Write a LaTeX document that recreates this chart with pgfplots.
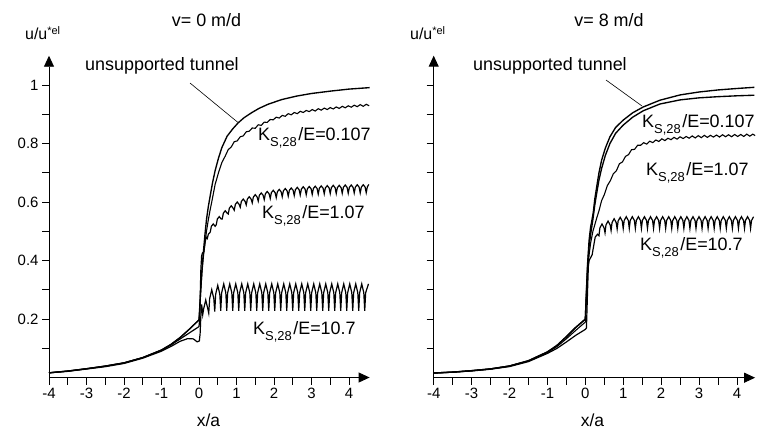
\documentclass[border=0pt]{standalone}
\usepackage{pgfplots}
\pgfplotsset{compat=1.18}
\usepackage{fontspec}
\setmainfont{Liberation Sans}
\usetikzlibrary{arrows.meta}
\newcommand{\Ks}[1]{K\raisebox{-6bp}{\fontsize{13}{13}\selectfont S,28}\hspace{1.5bp}/E=#1}
\pgfplotsset{
 crv/.style={black, line width=1.35bp, mark=none},
 panel/.style={
  scale only axis,
  axis lines=left,
  axis line style={line width=0.9bp},
  every outer x axis line/.append style={-{Triangle[length=11bp,width=10bp]}},
  every outer y axis line/.append style={-{Triangle[length=11bp,width=10bp]}},
  every inner x axis line/.append style={-{Triangle[length=11bp,width=10bp]}},
  every inner y axis line/.append style={-{Triangle[length=11bp,width=10bp]}},
  xmin=-4, ymin=0, ymax=1.1,
  xtick={-4,-3,-2,-1,0,1,2,3,4},
  xticklabels={-4,-3,-2,-1,0,1,2,3,4},
  minor xtick={-3.5,-2.5,-1.5,-0.5,0.5,1.5,2.5,3.5},
  ytick={0.2,0.4,0.6,0.8,1},
  minor ytick={0.1,0.3,0.5,0.7,0.9},
  tick align=outside, major tick length=7bp, minor tick length=7bp,
  every tick/.style={line width=0.8bp, black},
  ticklabel style={font=\fontsize{15}{15}\selectfont},
  clip=false,
 }
}
\begin{document}
\begin{tikzpicture}[x=1bp,y=1bp]
% ---------------- left panel: v = 0 m/d
\begin{axis}[panel, at={(49bp,51.5bp)}, anchor=south west,
  width=320.6bp, height=321.75bp, xmax=4.55,
  yticklabels={0.2,0.4,0.6,0.8,1}]
% unsupported tunnel
\addplot[crv] coordinates {(-4,0.016) (-3.5,0.022) (-3,0.030) (-2.5,0.039) (-2,0.050) (-1.5,0.068) (-1,0.094) (-0.75,0.113) (-0.5,0.137) (-0.25,0.166) (0,0.197) (0.02,0.24) (0.05,0.31) (0.08,0.37) (0.115,0.425) (0.16,0.49) (0.2,0.54) (0.25,0.585) (0.3,0.622) (0.36,0.665) (0.43,0.707) (0.52,0.75) (0.61,0.786) (0.75,0.825) (0.9,0.85) (1.04,0.87) (1.2,0.888) (1.4,0.905) (1.6,0.92) (1.84,0.934) (2.2,0.95) (2.6,0.962) (3,0.971) (3.5,0.979) (4,0.986) (4.55,0.991)};
% Ks/E = 0.107
\addplot[crv, line width=1.1bp] coordinates {(-4,0.016) (-3.5,0.022) (-3,0.030) (-2.5,0.039) (-2,0.050) (-1.5,0.068) (-1,0.094) (-0.75,0.113) (-0.5,0.137) (-0.25,0.166) (0,0.197) (0.02,0.235) (0.05,0.30) (0.08,0.36) (0.115,0.41) (0.16,0.46) (0.2,0.50) (0.25,0.54) (0.3,0.575) (0.34,0.60) (0.43,0.66) (0.52,0.70) (0.61,0.735)
(0.70,0.757) (0.78,0.779) (0.86,0.788) (0.94,0.806) (1.02,0.809) (1.10,0.823) (1.18,0.826) (1.26,0.840) (1.34,0.842) (1.42,0.853) (1.50,0.852) (1.58,0.864) (1.66,0.862) (1.74,0.873) (1.82,0.872) (1.90,0.882) (1.98,0.881) (2.06,0.890) (2.14,0.887) (2.22,0.896) (2.30,0.893) (2.38,0.902) (2.46,0.898) (2.54,0.906) (2.62,0.902) (2.70,0.910) (2.78,0.906) (2.86,0.913) (2.94,0.909) (3.02,0.916) (3.10,0.911) (3.18,0.919) (3.26,0.914) (3.34,0.921) (3.42,0.916) (3.50,0.923) (3.58,0.918) (3.66,0.925) (3.74,0.920) (3.82,0.927) (3.90,0.922) (3.98,0.929) (4.06,0.924) (4.14,0.931) (4.22,0.926) (4.30,0.933) (4.38,0.927) (4.46,0.934) (4.54,0.929)};
% Ks/E = 1.07
\addplot[crv, line width=1.2bp] coordinates {(-4,0.016) (-3.5,0.022) (-3,0.030) (-2.5,0.039) (-2,0.050) (-1.5,0.068) (-1,0.093) (-0.75,0.111) (-0.5,0.132) (-0.25,0.153) (0,0.174) (0.02,0.20) (0.035,0.29) (0.05,0.37) (0.07,0.415) (0.09,0.425) (0.13,0.43) (0.16,0.46) (0.19,0.48) (0.22,0.475) (0.25,0.49)
(0.30,0.497) (0.33,0.517) (0.38,0.525) (0.43,0.517)
(0.46,0.522) (0.49,0.542) (0.54,0.550) (0.59,0.542)
(0.62,0.542) (0.65,0.562) (0.70,0.570) (0.75,0.562)
(0.78,0.559) (0.81,0.579) (0.86,0.587) (0.91,0.579)
(0.94,0.572) (0.97,0.592) (1.02,0.600) (1.07,0.592)
(1.10,0.582) (1.13,0.602) (1.18,0.610) (1.23,0.602)
(1.26,0.590) (1.29,0.610) (1.34,0.618) (1.39,0.610)
(1.42,0.597) (1.45,0.617) (1.50,0.625) (1.55,0.617)
(1.58,0.603) (1.61,0.623) (1.66,0.631) (1.71,0.623)
(1.74,0.608) (1.77,0.628) (1.82,0.636) (1.87,0.628)
(1.90,0.612) (1.93,0.632) (1.98,0.640) (2.03,0.632)
(2.06,0.615) (2.09,0.635) (2.14,0.643) (2.19,0.635)
(2.22,0.618) (2.25,0.638) (2.30,0.646) (2.35,0.638)
(2.38,0.620) (2.41,0.640) (2.46,0.648) (2.51,0.640)
(2.54,0.622) (2.57,0.642) (2.62,0.650) (2.67,0.642)
(2.70,0.624) (2.73,0.644) (2.78,0.652) (2.83,0.644)
(2.86,0.625) (2.89,0.645) (2.94,0.653) (2.99,0.645)
(3.02,0.626) (3.05,0.646) (3.10,0.654) (3.15,0.646)
(3.18,0.627) (3.21,0.647) (3.26,0.655) (3.31,0.647)
(3.34,0.628) (3.37,0.648) (3.42,0.656) (3.47,0.648)
(3.50,0.629) (3.53,0.649) (3.58,0.657) (3.63,0.649)
(3.66,0.629) (3.69,0.649) (3.74,0.657) (3.79,0.649)
(3.82,0.630) (3.85,0.650) (3.90,0.658) (3.95,0.650)
(3.98,0.630) (4.01,0.650) (4.06,0.658) (4.11,0.650)
(4.14,0.631) (4.17,0.651) (4.22,0.659) (4.27,0.651)
(4.30,0.631) (4.33,0.651) (4.38,0.659) (4.43,0.651)
(4.46,0.632) (4.49,0.652) (4.53,0.660)};
% Ks/E = 10.7
\addplot[crv, line width=1.2bp] coordinates {(-4,0.016) (-3.5,0.021) (-3,0.029) (-2.5,0.037) (-2,0.048) (-1.5,0.066) (-1,0.090) (-0.75,0.106) (-0.5,0.124) (-0.3,0.133) (-0.15,0.132) (-0.05,0.122) (0.01,0.125) (0.03,0.15) (0.05,0.21) (0.07,0.25) (0.085,0.235)
(0.10,0.215) (0.125,0.235) (0.18,0.265) (0.235,0.235)
(0.26,0.220) (0.285,0.270) (0.34,0.300) (0.395,0.270)
(0.42,0.225) (0.445,0.285) (0.50,0.315) (0.555,0.285)
(0.58,0.228) (0.605,0.29) (0.66,0.32) (0.715,0.29)
(0.74,0.228) (0.765,0.29) (0.82,0.32) (0.875,0.29)
(0.90,0.228) (0.925,0.29) (0.98,0.32) (1.035,0.29)
(1.06,0.228) (1.085,0.29) (1.14,0.32) (1.195,0.29)
(1.22,0.228) (1.245,0.29) (1.30,0.32) (1.355,0.29)
(1.38,0.228) (1.405,0.29) (1.46,0.32) (1.515,0.29)
(1.54,0.228) (1.565,0.29) (1.62,0.32) (1.675,0.29)
(1.70,0.228) (1.725,0.29) (1.78,0.32) (1.835,0.29)
(1.86,0.228) (1.885,0.29) (1.94,0.32) (1.995,0.29)
(2.02,0.228) (2.045,0.29) (2.10,0.32) (2.155,0.29)
(2.18,0.228) (2.205,0.29) (2.26,0.32) (2.315,0.29)
(2.34,0.228) (2.365,0.29) (2.42,0.32) (2.475,0.29)
(2.50,0.228) (2.525,0.29) (2.58,0.32) (2.635,0.29)
(2.66,0.228) (2.685,0.29) (2.74,0.32) (2.795,0.29)
(2.82,0.228) (2.845,0.29) (2.90,0.32) (2.955,0.29)
(2.98,0.228) (3.005,0.29) (3.06,0.32) (3.115,0.29)
(3.14,0.228) (3.165,0.29) (3.22,0.32) (3.275,0.29)
(3.30,0.228) (3.325,0.29) (3.38,0.32) (3.435,0.29)
(3.46,0.228) (3.485,0.29) (3.54,0.32) (3.595,0.29)
(3.62,0.228) (3.645,0.29) (3.70,0.32) (3.755,0.29)
(3.78,0.228) (3.805,0.29) (3.86,0.32) (3.915,0.29)
(3.94,0.228) (3.965,0.29) (4.02,0.32) (4.075,0.29)
(4.10,0.228) (4.125,0.29) (4.18,0.32) (4.235,0.29)
(4.26,0.228) (4.285,0.29) (4.34,0.32) (4.395,0.29)
(4.42,0.228) (4.445,0.29) (4.52,0.32)};
\end{axis}
% ---------------- right panel: v = 8 m/d
\begin{axis}[panel, at={(433.7bp,51.3bp)}, anchor=south west,
  width=321.4bp, height=322bp, xmax=4.48,
  yticklabels={,,,,}]
% unsupported tunnel
\addplot[crv] coordinates {(-4,0.016) (-3.5,0.019) (-3,0.024) (-2.5,0.030) (-2,0.040) (-1.5,0.058) (-1,0.088) (-0.75,0.11) (-0.5,0.14) (-0.25,0.172) (0,0.20) (0.03,0.30) (0.06,0.39) (0.1,0.47) (0.14,0.515) (0.17,0.535) (0.21,0.565) (0.25,0.61) (0.3,0.652) (0.36,0.70) (0.43,0.743) (0.53,0.785) (0.65,0.823) (0.8,0.855) (1.0,0.88) (1.25,0.905) (1.53,0.925) (1.97,0.948) (2.5,0.966) (3,0.976) (3.5,0.983) (4,0.988) (4.46,0.992)};
% Ks/E = 0.107
\addplot[crv] coordinates {(-4,0.016) (-3.5,0.019) (-3,0.024) (-2.5,0.030) (-2,0.040) (-1.5,0.058) (-1,0.088) (-0.75,0.11) (-0.5,0.14) (-0.25,0.172) (0,0.20) (0.03,0.29) (0.06,0.38) (0.1,0.45) (0.14,0.49) (0.17,0.515) (0.21,0.55) (0.25,0.59) (0.3,0.63) (0.36,0.675) (0.43,0.715) (0.53,0.76) (0.65,0.80) (0.8,0.835) (1.0,0.863) (1.25,0.89) (1.53,0.912) (1.97,0.935) (2.5,0.949) (3,0.956) (3.5,0.96) (4,0.963) (4.46,0.965)};
% Ks/E = 1.07
\addplot[crv, line width=1.1bp] coordinates {(-4,0.016) (-3.5,0.019) (-3,0.024) (-2.5,0.030) (-2,0.040) (-1.5,0.057) (-1,0.086) (-0.75,0.106) (-0.5,0.133) (-0.25,0.162) (0,0.19) (0.03,0.28) (0.06,0.36) (0.1,0.42) (0.14,0.46) (0.2,0.50) (0.3,0.545) (0.36,0.57) (0.43,0.605)
(0.50,0.625) (0.58,0.656) (0.66,0.673) (0.74,0.697) (0.82,0.707) (0.90,0.731) (0.98,0.737) (1.06,0.756) (1.14,0.762) (1.22,0.779) (1.30,0.780) (1.38,0.794) (1.46,0.794) (1.54,0.803) (1.62,0.798) (1.70,0.808) (1.78,0.803) (1.86,0.812) (1.94,0.807) (2.02,0.816) (2.10,0.810) (2.18,0.818) (2.26,0.813) (2.34,0.821) (2.42,0.815) (2.50,0.823) (2.58,0.817) (2.66,0.824) (2.74,0.818) (2.82,0.826) (2.90,0.819) (2.98,0.827) (3.06,0.820) (3.14,0.828) (3.22,0.821) (3.30,0.828) (3.38,0.822) (3.46,0.829) (3.54,0.822) (3.62,0.830) (3.70,0.823) (3.78,0.830) (3.86,0.823) (3.94,0.831) (4.02,0.824) (4.10,0.831) (4.18,0.824) (4.26,0.832) (4.34,0.825) (4.42,0.832) (4.48,0.827)};
% Ks/E = 10.7
\addplot[crv, line width=1.2bp] coordinates {(-4,0.016) (-3.5,0.019) (-3,0.023) (-2.5,0.029) (-2,0.038) (-1.5,0.055) (-1,0.083) (-0.75,0.10) (-0.5,0.122) (-0.25,0.145) (0,0.165) (0.03,0.17) (0.06,0.30) (0.08,0.38) (0.1,0.40) (0.14,0.41) (0.18,0.42) (0.22,0.45) (0.26,0.48) (0.32,0.49)
(0.36,0.485) (0.385,0.512) (0.44,0.525) (0.495,0.512)
(0.52,0.495) (0.545,0.522) (0.60,0.535) (0.655,0.522)
(0.68,0.503) (0.705,0.530) (0.76,0.543) (0.815,0.530)
(0.84,0.508) (0.865,0.535) (0.92,0.548) (0.975,0.535)
(1.00,0.51) (1.025,0.537) (1.08,0.55) (1.135,0.537)
(1.16,0.51) (1.185,0.537) (1.24,0.55) (1.295,0.537)
(1.32,0.51) (1.345,0.537) (1.40,0.55) (1.455,0.537)
(1.48,0.51) (1.505,0.537) (1.56,0.55) (1.615,0.537)
(1.64,0.51) (1.665,0.537) (1.72,0.55) (1.775,0.537)
(1.80,0.51) (1.825,0.537) (1.88,0.55) (1.935,0.537)
(1.96,0.51) (1.985,0.537) (2.04,0.55) (2.095,0.537)
(2.12,0.51) (2.145,0.537) (2.20,0.55) (2.255,0.537)
(2.28,0.51) (2.305,0.537) (2.36,0.55) (2.415,0.537)
(2.44,0.51) (2.465,0.537) (2.52,0.55) (2.575,0.537)
(2.60,0.51) (2.625,0.537) (2.68,0.55) (2.735,0.537)
(2.76,0.51) (2.785,0.537) (2.84,0.55) (2.895,0.537)
(2.92,0.51) (2.945,0.537) (3.00,0.55) (3.055,0.537)
(3.08,0.51) (3.105,0.537) (3.16,0.55) (3.215,0.537)
(3.24,0.51) (3.265,0.537) (3.32,0.55) (3.375,0.537)
(3.40,0.51) (3.425,0.537) (3.48,0.55) (3.535,0.537)
(3.56,0.51) (3.585,0.537) (3.64,0.55) (3.695,0.537)
(3.72,0.51) (3.745,0.537) (3.80,0.55) (3.855,0.537)
(3.88,0.51) (3.905,0.537) (3.96,0.55) (4.015,0.537)
(4.04,0.51) (4.065,0.537) (4.12,0.55) (4.175,0.537)
(4.20,0.51) (4.225,0.537) (4.28,0.55) (4.335,0.537)
(4.36,0.51) (4.385,0.537) (4.44,0.55)};
\end{axis}
% ---------------- texts
\begin{scope}[every node/.style={inner sep=0pt, font=\fontsize{18}{20}\selectfont}]
\node[anchor=base] at (206.5,402) {v= 0 m/d};
\node[anchor=base] at (609,402) {v= 8 m/d};
\node[anchor=base west, font=\fontsize{16}{18}\selectfont] at (25,389) {u/u\raisebox{5bp}{\fontsize{11}{11}\selectfont *el}};
\node[anchor=base west, font=\fontsize{16}{18}\selectfont] at (410,389) {u/u\raisebox{5bp}{\fontsize{11}{11}\selectfont *el}};
\node[anchor=base west] at (85,359) {unsupported tunnel};
\node[anchor=base west] at (473,359) {unsupported tunnel};
\node[anchor=base, font=\fontsize{17.5}{19}\selectfont] at (208.5,2.5) {x/a};
\node[anchor=base, font=\fontsize{17.5}{19}\selectfont] at (592.5,2.5) {x/a};
\node[anchor=base west] at (258,289) {\Ks{0.107}};
\node[anchor=base west] at (262,211) {\Ks{1.07}};
\node[anchor=base west] at (253,95) {\Ks{10.7}};
\node[anchor=base west] at (642,302) {\Ks{0.107}};
\node[anchor=base west] at (646,254) {\Ks{1.07}};
\node[anchor=base west] at (640,179) {\Ks{10.7}};
\end{scope}
\draw[line width=0.6bp] (190,346) -- (238,306.5);
\draw[line width=0.6bp] (606,349) -- (642,323);
\pgfresetboundingbox
\path[use as bounding box] (0,0) rectangle (780,429);
\end{tikzpicture}
\end{document}
